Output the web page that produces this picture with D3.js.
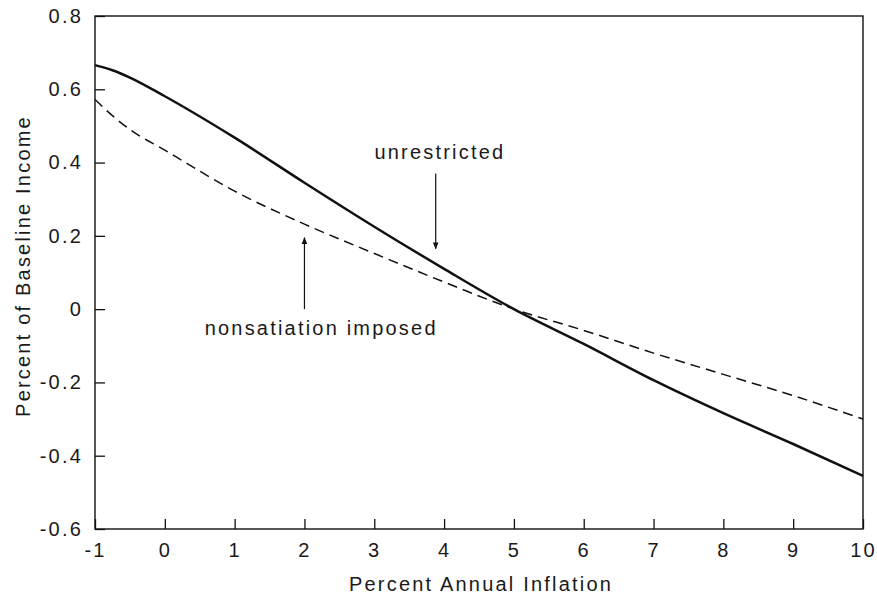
<!DOCTYPE html>
<html>
<head>
<meta charset="utf-8">
<script src="https://cdn.jsdelivr.net/npm/d3@7"></script>
<style>
  body { margin: 0; background: #fff; }
  text { font-family: "Liberation Sans", Helvetica, Arial, sans-serif; fill: #1a1a1a; letter-spacing: 2.2px; }
</style>
</head>
<body>
<svg width="877" height="599"></svg>
<script>

// values
var inflation = [-1, -0.75, -0.5, 0, 1, 2, 3, 4, 5, 6, 7, 8, 9, 10];
var unrestricted = [0.666, 0.652, 0.632, 0.581, 0.468, 0.345, 0.225, 0.11, 0.0, -0.095, -0.194, -0.284, -0.368, -0.455];
var nonsatiation = [0.572, 0.528, 0.49, 0.434, 0.322, 0.232, 0.152, 0.074, 0.0, -0.058, -0.12, -0.178, -0.236, -0.30];
var xTicks = [-1, 0, 1, 2, 3, 4, 5, 6, 7, 8, 9, 10];
var yTicks = [0.8, 0.6, 0.4, 0.2, 0, -0.2, -0.4, -0.6];

var svg = d3.select("svg"),
    margin = {top: 16, right: 14, bottom: 70, left: 95},
    width = +svg.attr("width") - margin.left - margin.right,
    height = +svg.attr("height") - margin.top - margin.bottom

var x = d3.scaleLinear().domain([-1, 10]).range([0, width]),
    y = d3.scaleLinear().domain([-0.6, 0.8]).range([height, 0])

var g = svg.append("g")
    .attr("transform", "translate(" + margin.left + "," + margin.top + ")");

var defs = svg.append("defs");
defs.append("marker")
    .attr("id", "arrow")
    .attr("viewBox", "0 0 10 10")
    .attr("refX", 9).attr("refY", 5)
    .attr("markerWidth", 7).attr("markerHeight", 7)
    .attr("markerUnits", "userSpaceOnUse")
    .attr("orient", "auto")
  .append("path")
    .attr("d", "M0,1L10,5L0,9Z")
    .attr("fill", "#111");

var fmt = function(d) { return d === 0 ? "0" : d3.format(".1f")(d).replace("−", "-"); };

var x_axis = g.append("g")
    .attr("transform", "translate(0," + height + ")")
    .call(d3.axisBottom(x).tickValues(xTicks).tickSize(-10).tickPadding(11)
      .tickFormat(function(d) { return String(d); }));

var y_axis = g.append("g")
    .call(d3.axisLeft(y).tickValues(yTicks).tickSize(-10).tickPadding(12).tickFormat(fmt));

[x_axis, y_axis].forEach(function(a) {
  a.select(".domain").remove();
  a.selectAll("line").attr("stroke", "#111").attr("stroke-width", 1.3);
  a.selectAll("text").style("font-size", "20px").attr("fill", "#1a1a1a")
    .style("font-family", "'Liberation Sans', Helvetica, Arial, sans-serif");
});
x_axis.selectAll("text").attr("dy", "0.85em");

// frame
g.append("rect")
    .attr("width", width).attr("height", height)
    .attr("fill", "none").attr("stroke", "#111").attr("stroke-width", 1.4);

var line = d3.line()
    .x(function(d, i) { return x(inflation[i]); })
    .y(function(d) { return y(d); })
    .curve(d3.curveMonotoneX);

g.append("path")
    .datum(nonsatiation)
    .attr("d", line)
    .attr("fill", "none").attr("stroke", "#111")
    .attr("stroke-width", 1.5)
    .attr("stroke-dasharray", "10,6");

g.append("path")
    .datum(unrestricted)
    .attr("d", line)
    .attr("fill", "none").attr("stroke", "#111")
    .attr("stroke-width", 2.5);

// annotations
g.append("text")
    .attr("x", x(3.94)).attr("y", y(0.41))
    .attr("text-anchor", "middle")
    .style("font-size", "20px")
    .text("unrestricted");

g.append("line")
    .attr("x1", x(3.88)).attr("x2", x(3.88))
    .attr("y1", y(0.37)).attr("y2", y(0.165))
    .attr("stroke", "#111").attr("stroke-width", 1.2)
    .attr("marker-end", "url(#arrow)");

g.append("text")
    .attr("x", x(2.24)).attr("y", y(-0.07))
    .attr("text-anchor", "middle")
    .style("font-size", "20px")
    .text("nonsatiation imposed");

g.append("line")
    .attr("x1", x(2)).attr("x2", x(2))
    .attr("y1", y(0.0)).attr("y2", y(0.195))
    .attr("stroke", "#111").attr("stroke-width", 1.2)
    .attr("marker-end", "url(#arrow)");

// axis titles
svg.append("text")
    .attr("x", margin.left + width / 2 + 2).attr("y", 591)
    .attr("text-anchor", "middle")
    .style("font-size", "20px")
    .text("Percent Annual Inflation");

svg.append("text")
    .attr("transform", "translate(30,266) rotate(-90)")
    .attr("text-anchor", "middle")
    .style("font-size", "20px")
    .text("Percent of Baseline Income");

</script>
</body>
</html>
